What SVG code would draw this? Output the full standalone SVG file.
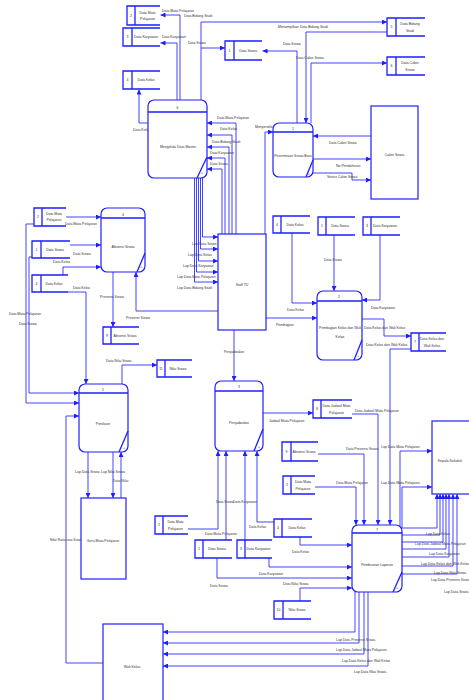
<svg xmlns="http://www.w3.org/2000/svg" width="469" height="700" viewBox="0 0 469 700">
<style>
.b{fill:#fff;stroke:#1e1eff;stroke-width:1.2}
.st{fill:none;stroke:#1e1eff;stroke-width:1.3}
.c2{fill:none;stroke:#2222ff;stroke-width:0.85;marker-end:url(#a)}
text{font-family:"Liberation Sans",Arial,sans-serif;font-size:3.5px;fill:#333}
.m{text-anchor:middle}
</style>
<defs>
<marker id="a" markerUnits="userSpaceOnUse" markerWidth="6" markerHeight="5" refX="5" refY="2.5" orient="auto"><path d="M0,0 L5,2.5 L0,5 z" fill="#1e1eff"/></marker>
</defs>
<rect width="469" height="700" fill="#fff"/>

<g id="connectors">
<polyline class="c2" points="180,100 180,15 160.5,15"/>
<text x="162" y="12">Data Mata Pelajaran</text>
<polyline class="c2" points="177,100 177,43 160.5,43"/>
<text x="162" y="38">Data Karyawan</text>
<polyline class="c2" points="201,100 201,22 387,22"/>
<text x="184" y="17">Data Bidang Studi</text>
<polyline class="c2" points="201,48 225,48"/>
<text x="188" y="44">Data Siswa</text>
<polyline class="c2" points="148,123 139,123 139,89.5"/>
<text x="133" y="131">Data Kelas</text>
<polyline class="c2" points="387,32 306,32 306,123"/>
<text x="278" y="28">Menampilkan Data Bidang Studi</text>
<polyline class="c2" points="297,123 297,51 262.5,51"/>
<text x="283" y="45">Data Siswa</text>
<polyline class="c2" points="311,123 311,63 387,63"/>
<text x="296" y="59">Data Calon Siswa</text>
<polyline class="c2" points="371,136 313,136"/>
<text x="329" y="144">Data Calon Siswa</text>
<polyline class="c2" points="313,159 371,159"/>
<text x="336" y="167">No Pendaftaran</text>
<polyline class="c2" points="311,173 352,173 352,180 371,180"/>
<text x="327" y="178">Status Calon Siswa</text>
<polyline class="c2" points="265,234 265,132 273,132"/>
<text x="255" y="128">Menyerahkan</text>
<polyline class="c2" points="236,234 236,123 207,123"/>
<text x="217" y="119">Data Mata Pelajaran</text>
<polyline class="c2" points="232,234 232,135 207,135"/>
<text x="220" y="130">Data Kelas</text>
<polyline class="c2" points="229,234 229,147 207,147"/>
<text x="212" y="143">Data Bidang Studi</text>
<polyline class="c2" points="225,234 225,158 207,158"/>
<text x="210" y="154">Data Karyawan</text>
<polyline class="c2" points="222,234 222,169 207,169"/>
<text x="210" y="165">Data Siswa</text>
<polyline class="c2" points="202.5,177 202.5,237 218,237"/>
<text x="192" y="245">Lap Data Siswa</text>
<polyline class="c2" points="200.5,177 200.5,249 218,249"/>
<text x="188" y="256">Lap Data Kelas</text>
<polyline class="c2" points="198.5,177 198.5,261 218,261"/>
<text x="183" y="267">Lap Data Karyawan</text>
<polyline class="c2" points="196.5,177 196.5,272 218,272"/>
<text x="177" y="278">Lap Data Mata Pelajaran</text>
<polyline class="c2" points="194.5,177 194.5,282 218,282"/>
<text x="177" y="289">Lap Data Bidang Studi</text>
<polyline class="c2" points="66,217 101,217"/>
<text x="65" y="225">Data Mata Pelajaran</text>
<polyline class="c2" points="70,245 101,245"/>
<text x="73" y="255">Data Siswa</text>
<polyline class="c2" points="63,275 63,267 101,267"/>
<text x="53" y="263">Data Kelas</text>
<polyline class="c2" points="68,292 86,292 86,384"/>
<text x="73" y="289">Data Kelas</text>
<polyline class="c2" points="113,272 113,327"/>
<text x="100" y="298">Presensi Siswa</text>
<polyline class="c2" points="218,311 136,311 136,272"/>
<text x="126" y="319">Presensi Siswa</text>
<polyline class="c2" points="34,224 26,224 26,403 79,403"/>
<text x="9" y="315">Data Mata Pelajaran</text>
<polyline class="c2" points="32,257 29,257 29,393 79,393"/>
<text x="19" y="325">Data Siswa</text>
<polyline class="c2" points="103,663 66,663 66,416 79,416"/>
<text x="50" y="541">Nilai Rata-rata Siswa</text>
<polyline class="c2" points="122,384 122,365 157,365"/>
<text x="106" y="362">Data Nilai Siswa</text>
<polyline class="c2" points="88,452 88,498"/>
<text x="75" y="473">Lap Data Siswa</text>
<polyline class="c2" points="113,452 113,498"/>
<text x="101" y="473">Lap Nilai Siswa</text>
<polyline class="c2" points="121,498 121,452"/>
<text x="113" y="482">Data Nilai</text>
<polyline class="c2" points="292,233 292,303 317,303"/>
<text x="287" y="311">Data Kelas</text>
<polyline class="c2" points="266,318 317,318"/>
<text x="276" y="326">Pembagian</text>
<polyline class="c2" points="334,235 334,291"/>
<text x="324" y="261">Data Siswa</text>
<polyline class="c2" points="380,235 380,300 362,300"/>
<text x="371" y="309">Data Karyawan</text>
<polyline class="c2" points="362,319 384,319 384,336 411,336"/>
<text x="364" y="329">Data Kelas dan Wali Kelas</text>
<polyline class="c2" points="411,349 390,349 390,525"/>
<text x="366" y="346">Data Kelas dan Wali Kelas</text>
<polyline class="c2" points="234,330 234,381"/>
<text x="224" y="353">Penjadwalan</text>
<polyline class="c2" points="263,413 313,413"/>
<text x="269" y="422">Jadwal Mata Pelajaran</text>
<polyline class="c2" points="352,414 378,414 378,525"/>
<text x="355" y="412">Data Jadwal Mata Pelajaran</text>
<polyline class="c2" points="188,529 218,529 218,451"/>
<text x="205" y="535">Data Mata Pelajaran</text>
<polyline class="c2" points="226,540 226,451"/>
<polyline class="c2" points="245,540 245,451"/>
<text x="216" y="503">Data Siswa</text>
<text x="233" y="503">Data Karyawan</text>
<polyline class="c2" points="274,522 257,522 257,451"/>
<text x="249" y="528">Data Kelas</text>
<polyline class="c2" points="318,454 364,454 364,525"/>
<text x="346" y="450">Data Presensi Siswa</text>
<polyline class="c2" points="315,487 356,487 356,525"/>
<text x="336" y="484">Data Mata Pelajaran</text>
<polyline class="c2" points="300,537 300,545 352,545"/>
<text x="292" y="553">Data Kelas</text>
<polyline class="c2" points="269,558 269,567 352,567"/>
<text x="259" y="575">Data Karyawan</text>
<polyline class="c2" points="217,558 217,578 352,578"/>
<text x="210" y="587">Data Siswa</text>
<polyline class="c2" points="300,601 300,588 352,588"/>
<text x="283" y="585">Data Nilai Siswa</text>
<polyline class="c2" points="400,526 400,451 432,451"/>
<text x="381" y="448">Lap Data Mata Pelajaran</text>
<polyline class="c2" points="402,528 402,487 432,487"/>
<text x="381" y="484">Lap Data Mata Pelajaran</text>
<polyline class="c2" points="401,528 437,528 437,494"/>
<polyline class="c2" points="402,535 440,535 440,494"/>
<polyline class="c2" points="402,542 443,542 443,494"/>
<polyline class="c2" points="402,549 446,549 446,494"/>
<polyline class="c2" points="402,557 449,557 449,494"/>
<polyline class="c2" points="402,566 453,566 453,494"/>
<polyline class="c2" points="400,574 457,574 457,494"/>
<text x="426" y="535">Lap Data Kelas</text>
<text x="415" y="545">Lap Data Jadwal Mata Pelajaran</text>
<text x="429" y="555">Lap Data Karyawan</text>
<text x="421" y="565">Lap Data Kelas dan Wali Kelas</text>
<text x="434" y="574">Lap Data Nilai Siswa</text>
<text x="431" y="581">Lap Data Presensi Siswa</text>
<text x="444" y="593">Lap Data Siswa</text>
<polyline class="c2" points="355,591 355,632 163,632"/>
<polyline class="c2" points="359,592 359,643 163,643"/>
<polyline class="c2" points="364,592 364,654 163,654"/>
<polyline class="c2" points="368,592 368,666 163,666"/>
<text x="336" y="641">Lap Data Presensi Siswa</text>
<text x="336" y="651">Lap Data Jadwal Mata Pelajaran</text>
<text x="342" y="662">Lap Data Kelas dan Wali Kelas</text>
<text x="354" y="673">Lap Data Nilai Siswa</text>
</g>

<g id="p6"><rect class="b" x="148" y="100" width="59" height="78" rx="6"/><line class="st" x1="148" y1="112" x2="207" y2="112"/><line class="st" x1="207" y1="157" x2="197" y2="178"/><text class="m" x="177.5" y="109">6</text><text class="m" x="178" y="148">Mengelola Data Master</text><text x="201" y="174">+</text></g>
<g id="p1"><rect class="b" x="273" y="123" width="40" height="54" rx="6"/><line class="st" x1="273" y1="132" x2="313" y2="132"/><line class="st" x1="313" y1="160" x2="306" y2="177"/><text class="m" x="293" y="130">1</text><text class="m" x="293" y="157">Penerimaan Siswa Baru</text><text x="308" y="175">+</text></g>
<g id="p4"><rect class="b" x="101" y="208" width="44" height="64" rx="6"/><line class="st" x1="101" y1="218" x2="145" y2="218"/><line class="st" x1="145" y1="253" x2="137" y2="272"/><text class="m" x="123" y="216">4</text><text class="m" x="123" y="248">Absensi Siswa</text><text x="140" y="268">+</text></g>
<g id="p2"><rect class="b" x="317" y="291" width="45" height="69" rx="6"/><line class="st" x1="317" y1="301" x2="362" y2="301"/><line class="st" x1="362" y1="340" x2="354" y2="360"/><text class="m" x="339" y="298">2</text><text class="m" x="340" y="329">Pembagian Kelas dan Wali</text><text class="m" x="340" y="338">Kelas</text><text x="357" y="357">+</text></g>
<g id="p5"><rect class="b" x="79" y="384" width="49" height="68" rx="6"/><line class="st" x1="79" y1="393" x2="128" y2="393"/><line class="st" x1="128" y1="431" x2="119" y2="452"/><text class="m" x="103" y="391">5</text><text class="m" x="103" y="425">Penilaian</text><text x="123" y="449">+</text></g>
<g id="p3"><rect class="b" x="215" y="381" width="48" height="70" rx="6"/><line class="st" x1="215" y1="391" x2="263" y2="391"/><line class="st" x1="263" y1="429" x2="254" y2="451"/><text class="m" x="239" y="388">3</text><text class="m" x="239" y="424">Penjadwalan</text><text x="258" y="448">+</text></g>
<g id="p7"><rect class="b" x="352" y="525" width="50" height="67" rx="6"/><line class="st" x1="352" y1="533" x2="402" y2="533"/><line class="st" x1="402" y1="572" x2="393" y2="592"/><text class="m" x="377" y="531">7</text><text class="m" x="377" y="566">Pembuatan Laporan</text><text x="396" y="589">+</text></g>

<g id="calon"><rect class="b" x="371" y="106" width="47" height="93"/><text class="m" x="394.5" y="156">Calon Siswa</text></g>
<g id="staff"><rect class="b" x="218" y="234" width="48" height="96"/><text class="m" x="242" y="286">Staff TU</text></g>
<g id="guru"><rect class="b" x="81" y="498" width="45" height="81"/><text class="m" x="103" y="542">Guru Mata Pelajaran</text></g>
<g id="wali"><rect class="b" x="103" y="624" width="60" height="90"/><text class="m" x="132" y="668">Wali Kelas</text></g>
<g id="kepsek"><rect class="b" x="432" y="421" width="45" height="73"/><text class="m" x="450" y="462">Kepala Sekolah</text></g>

<g id="s2a"><path class="st" d="M160,6H127V25H160M135,6V25"/><text class="m" x="131" y="17">2</text><text class="m" x="147.5" y="14">Data Mata</text><text class="m" x="147.5" y="20">Pelajaran</text></g>
<g id="s3a"><path class="st" d="M160,28H123V46H160M132,28V46"/><text class="m" x="127.5" y="38">3</text><text class="m" x="146" y="38">Data Karyawan</text></g>
<g id="s4a"><path class="st" d="M160,71H123V89H160M132,71V89"/><text class="m" x="127.5" y="81">4</text><text class="m" x="146" y="81">Data Kelas</text></g>
<g id="s1a"><path class="st" d="M262,41H225V60H262M234,41V60"/><text class="m" x="229.5" y="52">1</text><text class="m" x="248" y="52">Data Siswa</text></g>
<g id="s5"><path class="st" d="M425,18H387V36H425M396,18V36"/><text class="m" x="391.5" y="28">5</text><text class="m" x="410" y="25">Data Bidang</text><text class="m" x="410" y="32">Studi</text></g>
<g id="s6"><path class="st" d="M425,57H387V75H425M396,57V75"/><text class="m" x="391.5" y="67">6</text><text class="m" x="410" y="64">Data Calon</text><text class="m" x="410" y="71">Siswa</text></g>
<g id="s2b"><path class="st" d="M66,208H34V226H66M42,208V226"/><text class="m" x="38" y="218">2</text><text class="m" x="54" y="215">Data Mata</text><text class="m" x="54" y="221">Pelajaran</text></g>
<g id="s1b"><path class="st" d="M70,241H32V258H70M41,241V258"/><text class="m" x="36.5" y="251">1</text><text class="m" x="55" y="251">Data Siswa</text></g>
<g id="s4b"><path class="st" d="M68,275H32V292H68M41,275V292"/><text class="m" x="36.5" y="285">4</text><text class="m" x="54" y="285">Data Kelas</text></g>
<g id="s9a"><path class="st" d="M139,327H103V344H139M111,327V344"/><text class="m" x="107" y="337">9</text><text class="m" x="125" y="337">Absensi Siswa</text></g>
<g id="s11"><path class="st" d="M192,360H157V377H192M165,360V377"/><text class="m" x="161" y="370">11</text><text class="m" x="178" y="370">Nilai Siswa</text></g>
<g id="s4c"><path class="st" d="M310,216H273V233H310M281,216V233"/><text class="m" x="277" y="226">4</text><text class="m" x="295" y="226">Data Kelas</text></g>
<g id="s1c"><path class="st" d="M355,217H318V235H355M326,217V235"/><text class="m" x="322" y="227">1</text><text class="m" x="340" y="227">Data Siswa</text></g>
<g id="s3c"><path class="st" d="M400,217H363V235H400M371,217V235"/><text class="m" x="367" y="227">3</text><text class="m" x="385" y="227">Data Karyawan</text></g>
<g id="s7"><path class="st" d="M446,333H411V351H446M419,333V351"/><text class="m" x="415" y="343">7</text><text class="m" x="432" y="340">Data Kelas dan</text><text class="m" x="432" y="347">Wali Kelas</text></g>
<g id="s8"><path class="st" d="M352,400H313V418H352M321,400V418"/><text class="m" x="317" y="410">8</text><text class="m" x="336.5" y="407">Data Jadwal Mata</text><text class="m" x="336.5" y="414">Pelajaran</text></g>
<g id="s9b"><path class="st" d="M318,442H282V461H318M291,442V461"/><text class="m" x="286.5" y="453">9</text><text class="m" x="304" y="453">Absensi Siswa</text></g>
<g id="s2c"><path class="st" d="M315,476H283V494H315M291,476V494"/><text class="m" x="287" y="486">2</text><text class="m" x="303" y="483">Data Mata</text><text class="m" x="303" y="490">Pelajaran</text></g>
<g id="s2d"><path class="st" d="M188,516H155V534H188M163,516V534"/><text class="m" x="159" y="526">2</text><text class="m" x="175.5" y="523">Data Mata</text><text class="m" x="175.5" y="530">Pelajaran</text></g>
<g id="s1d"><path class="st" d="M232,540H195V558H232M203,540V558"/><text class="m" x="199" y="550">1</text><text class="m" x="217" y="550">Data Siswa</text></g>
<g id="s3d"><path class="st" d="M272,540H237V558H272M245,540V558"/><text class="m" x="241" y="550">3</text><text class="m" x="258.5" y="550">Data Karyawan</text></g>
<g id="s4d"><path class="st" d="M312,519H274V537H312M282,519V537"/><text class="m" x="278" y="529">4</text><text class="m" x="297" y="529">Data Kelas</text></g>
<g id="s10"><path class="st" d="M311,601H274V619H311M283,601V619"/><text class="m" x="278.5" y="611">10</text><text class="m" x="297" y="611">Nilai Siswa</text></g>
</svg>
